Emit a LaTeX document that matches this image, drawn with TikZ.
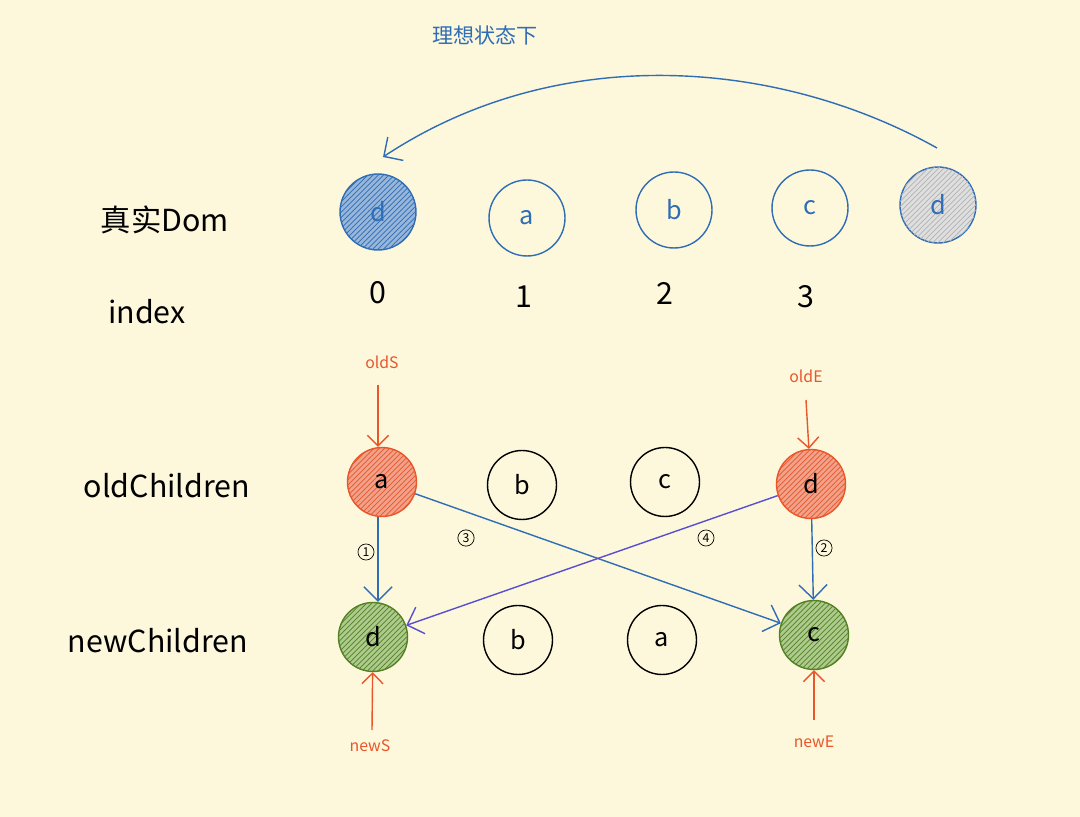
\documentclass[tikz,border=0pt]{standalone}
\usepackage{fontspec}
\setmainfont{Noto Sans CJK SC}
\usetikzlibrary{patterns,arrows.meta}
\definecolor{paper}{HTML}{FDF8DC}
\definecolor{inkblue}{HTML}{2F6DB5}
\definecolor{inkred}{HTML}{E8562A}
\definecolor{inkgreen}{HTML}{6AA12E}
\definecolor{inkpurple}{HTML}{5A4FCF}
\tikzset{
  dom/.style={circle, draw=inkblue, thick, minimum size=1.52cm, text=inkblue, font=\Large},
  vnode/.style={circle, draw=black, thick, minimum size=1.38cm, font=\Large},
  oldhit/.style={vnode, draw=inkred, fill=inkred!55, postaction={pattern=north east lines, pattern color=inkred}},
  newhit/.style={vnode, draw=inkgreen!80!black, fill=inkgreen!55, postaction={pattern=north east lines, pattern color=inkgreen!80!black}},
  rowlabel/.style={font=\LARGE},
  ptr/.style={inkred, thick, -{Straight Barb[length=6pt]}},
  ptrlabel/.style={inkred, font=\small},
  stepno/.style={circle, draw, inner sep=1pt, font=\scriptsize},
  move/.style={inkblue, thick, -{Straight Barb[length=8pt]}}
}
\begin{document}
\begin{tikzpicture}[x=0.02cm, y=-0.02cm]
		% background
		\fill[paper] (0,0) rectangle (1080,817);
		
		% title
		\node[inkblue, font=\large] (title) at (485,35) {理想状态下};
		
		% real dom row
		\node[rowlabel] (domlbl) at (165,220) {真实Dom};
		\node[dom, fill=inkblue!50, postaction={pattern=north east lines, pattern color=inkblue}] (dom0) at (378,212) {d};
		\node[dom] (dom1) at (527,218) {a};
		\node[dom] (dom2) at (674,210) {b};
		\node[dom] (dom3) at (810,208) {c};
		\node[dom, fill=gray!25, postaction={pattern=north east lines, pattern color=gray!60}] (dom4) at (938,205) {d};
		
		% index row
		\node[rowlabel] (idxlbl) at (147,312) {index};
		\node[font=\LARGE] (idx0) at (378,293) {0};
		\node[font=\LARGE] (idx1) at (524,297) {1};
		\node[font=\LARGE] (idx2) at (665,293) {2};
		\node[font=\LARGE] (idx3) at (806,297) {3};
		
		% ideal move
		\coordinate (mvfrom) at (937,148);
		\coordinate (mvto) at (383,157);
		\draw[move] (mvfrom) .. controls (780,60) and (560,40) .. (mvto);
		
		% old children
		\node[rowlabel] (oldlbl) at (167,486) {oldChildren};
		\node[oldhit] (old0) at (382,482) {a};
		\node[vnode] (old1) at (522,485) {b};
		\node[vnode] (old2) at (665,482) {c};
		\node[oldhit] (old3) at (811,484) {d};
		
		% new children
		\node[rowlabel] (newlbl) at (158,641) {newChildren};
		\node[newhit] (new0) at (373,637) {d};
		\node[vnode] (new1) at (518,640) {b};
		\node[vnode] (new2) at (662,640) {a};
		\node[newhit] (new3) at (814,635) {c};
		
		% pointers
		\node[ptrlabel] (oldS) at (382,362) {oldS};
		\node[ptrlabel] (oldE) at (806,376) {oldE};
		\node[ptrlabel] (newS) at (370,746) {newS};
		\node[ptrlabel] (newE) at (814,742) {newE};
		\draw[ptr] (oldS) ++(-4,23) -- (old0.north -| 378,0);
		\draw[ptr] (oldE) ++(0,24) -- (old3);
		\draw[ptr] (newS) ++(2,-16) -- (new0);
		\draw[ptr] (newE) ++(0,-22) -- (new3);
		
		% compare steps
		\draw[move] (old0.south -| 378,0) -- (new0.north -| 378,0);
		\draw[move] (old3) -- (new3);
		\draw[move] (old0) -- (new3);
		\draw[move, inkpurple] (old3) -- (new0);
		\node[stepno] (s1) at (366,552) {1};
		\node[stepno] (s2) at (824,548) {2};
		\node[stepno] (s3) at (466,538) {3};
		\node[stepno] (s4) at (706,538) {4};
\end{tikzpicture}
\end{document}
